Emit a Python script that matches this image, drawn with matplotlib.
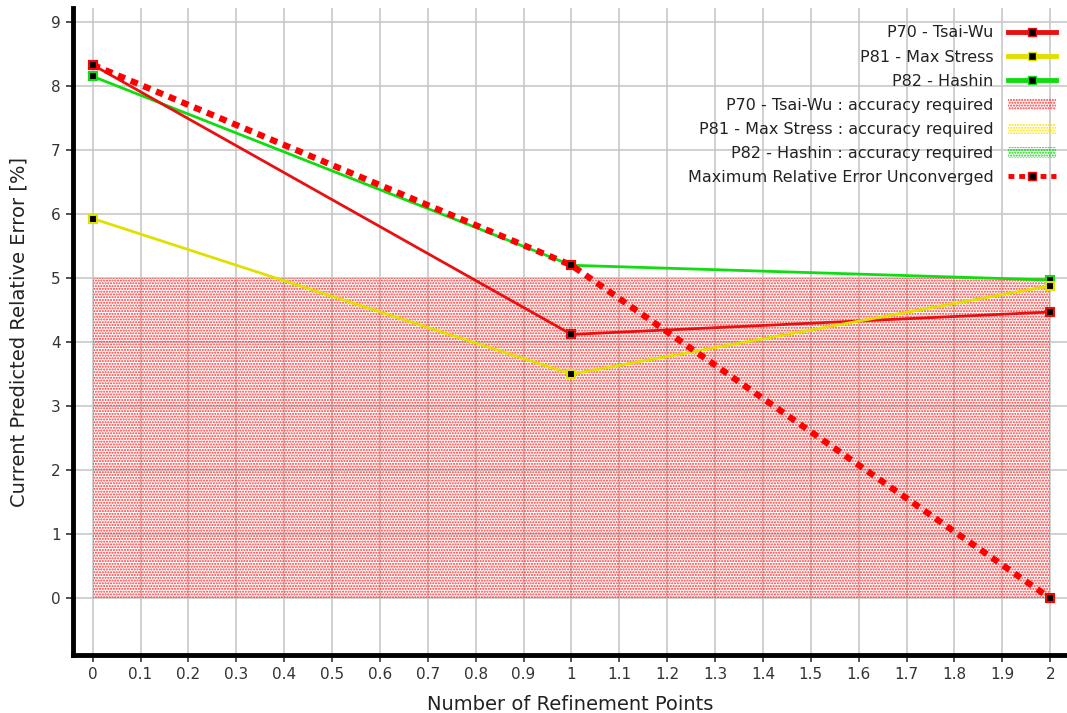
import matplotlib
matplotlib.use("Agg")
import matplotlib.pyplot as plt
from matplotlib.patches import Patch

x_points = [0, 1, 2]
p70_tsai_wu = [8.33, 4.12, 4.47]
p81_max_stress = [5.93, 3.50, 4.88]
p82_hashin = [8.15, 5.20, 4.97]
max_rel_error = [8.33, 5.20, 0.0]
accuracy_required = 5.0

x_ticks = [round(i * 0.1, 1) for i in range(21)]
x_labels = [str(int(t)) if t in (0, 1, 2) else str(t) for t in x_ticks]
y_ticks = list(range(10))

plt.rcParams['font.family'] = ['DejaVu Sans']
plt.rcParams['hatch.linewidth'] = 1.0

fig = plt.figure(figsize=(10.67, 7.13), dpi=100)
ax = fig.add_axes([0.068, 0.081, 0.932, 0.908])

# accuracy band (all three requirements are the same 5 %, red one sits on top)
ax.fill_between([x_points[0], x_points[-1]], 0, accuracy_required,
                facecolor="none", edgecolor="#ff3030", hatch="......", linewidth=0)

ax.plot(x_points, p70_tsai_wu, color="#e81010", lw=2.0, marker="s", ms=6,
        mfc="black", mec="#e81010", mew=1.5, zorder=5)
ax.plot(x_points, p81_max_stress, color="#e0e000", lw=2.0, marker="s", ms=6,
        mfc="black", mec="#e0e000", mew=1.5, zorder=5)
ax.plot(x_points, p82_hashin, color="#10dd10", lw=2.0, marker="s", ms=6,
        mfc="black", mec="#10dd10", mew=1.5, zorder=4)
ax.plot(x_points, max_rel_error, color="#ff0000", lw=4.5, ls=(0, (1.2, 1.0)),
        marker="s", ms=6, mfc="black", mec="#ff0000", mew=1.5, zorder=6)

ax.set_xlim(-0.042, 2.035)
ax.set_ylim(-0.89, 9.22)
ax.set_xticks(x_ticks)
ax.set_xticklabels(x_labels)
ax.set_yticks(y_ticks)
ax.grid(True, color="#c8c8c8", lw=1.2)
ax.set_axisbelow(True)

for s in ["top", "right"]:
    ax.spines[s].set_visible(False)
for s in ["left", "bottom"]:
    ax.spines[s].set_linewidth(3.5)
ax.tick_params(axis="both", direction="out", length=5, width=1.2,
               labelsize=11, labelcolor="#333333", color="#333333")

ax.set_xlabel("Number of Refinement Points", fontsize=14, color="#222222", labelpad=9)
ax.set_ylabel("Current Predicted Relative Error [%]", fontsize=14, color="#222222",
              labelpad=16)

handles = [
    plt.Line2D([], [], color="#e81010", lw=3.5, marker="s", ms=6, mfc="black", mec="#e81010"),
    plt.Line2D([], [], color="#e0e000", lw=3.5, marker="s", ms=6, mfc="black", mec="#e0e000"),
    plt.Line2D([], [], color="#10dd10", lw=3.5, marker="s", ms=6, mfc="black", mec="#10dd10"),
    Patch(facecolor="none", edgecolor="#ff3030", hatch="......", lw=0),
    Patch(facecolor="none", edgecolor="#ffe000", hatch="......", lw=0),
    Patch(facecolor="none", edgecolor="#00dd00", hatch="......", lw=0),
    plt.Line2D([], [], color="#ff0000", lw=3.5, ls=(0, (1.2, 1.0)), marker="s", ms=6,
               mfc="black", mec="#ff0000"),
]
labels = ["P70 - Tsai-Wu", "P81 - Max Stress", "P82 - Hashin",
          "P70 - Tsai-Wu : accuracy required", "P81 - Max Stress : accuracy required",
          "P82 - Hashin : accuracy required", "Maximum Relative Error Unconverged"]
leg = ax.legend(handles, labels, loc="upper right", markerfirst=False, frameon=False,
                fontsize=11.5, labelspacing=0.57, handlelength=3.0, handletextpad=0.9,
                bbox_to_anchor=(1.003, 0.995))
for t in leg.get_texts():
    t.set_color("#222222")

fig.savefig("out.png", dpi=100)
